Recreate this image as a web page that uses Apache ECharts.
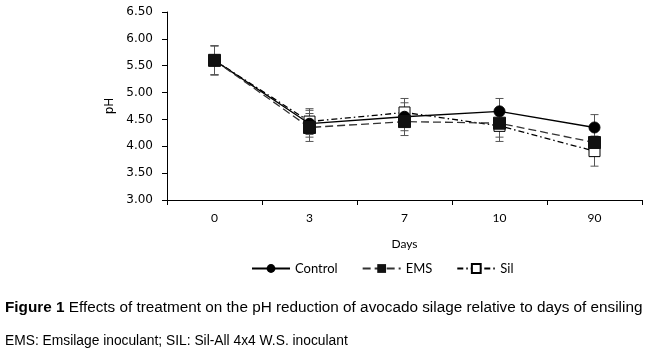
<!DOCTYPE html>
<html>
<head>
<meta charset="utf-8">
<script src="https://cdn.jsdelivr.net/npm/echarts@6/dist/echarts.min.js"></script>
<style>
  html, body { margin: 0; padding: 0; background: #fff; }
  #main { width: 647px; height: 349px; }
</style>
</head>
<body>
<div id="main"></div>
<script>
  // 数据
  var days = ['0', '3', '7', '10', '90'];
  var controlData = [5.60, 4.42, 4.55, 4.65, 4.35];
  var emsData = [5.60, 4.35, 4.46, 4.43, 4.07];
  var silData = [5.60, 4.46, 4.63, 4.38, 3.91];
  var controlErr = [0.27, 0.25, 0.26, 0.24, 0.24];
  var emsErr = [0.27, 0.26, 0.26, 0.26, 0.25];
  var silErr = [0.27, 0.24, 0.26, 0.29, 0.28];

  var myChart = echarts.init(document.getElementById('main'));

  // 误差线
  function errorSeries(name, data, err) {
    return {
      name: name + ' err',
      type: 'custom',
      silent: true,
      z: 1,
      data: data.map(function (v, i) { return [i, v - err[i], v + err[i]]; }),
      renderItem: function (params, api) {
        var lo = api.coord([api.value(0), api.value(1)]);
        var hi = api.coord([api.value(0), api.value(2)]);
        var w = 4;
        var st = { stroke: '#555', lineWidth: 1 };
        return {
          type: 'group',
          children: [
            { type: 'line', shape: { x1: hi[0], y1: hi[1], x2: lo[0], y2: lo[1] }, style: st },
            { type: 'line', shape: { x1: hi[0] - w, y1: hi[1], x2: hi[0] + w, y2: hi[1] }, style: st },
            { type: 'line', shape: { x1: lo[0] - w, y1: lo[1], x2: lo[0] + w, y2: lo[1] }, style: st }
          ]
        };
      }
    };
  }

  myChart.setOption({
    animation: false,
    grid: { left: 167, right: 5, top: 12, bottom: 149 },
    title: [{
      left: 0, top: 295,
      text: '{b|Figure 1} Effects of treatment on the pH reduction of avocado silage relative to days of ensiling',
      textStyle: {
        fontFamily: 'Liberation Sans', fontSize: 15.3, fontWeight: 'normal', color: '#000',
        rich: { b: { fontFamily: 'Liberation Sans', fontSize: 15.3, fontWeight: 'bold', color: '#000' } }
      }
    }, {
      left: 0, top: 329,
      text: 'EMS: Emsilage inoculant; SIL: Sil-All 4x4 W.S. inoculant',
      textStyle: { fontFamily: 'Liberation Sans', fontSize: 13.8, fontWeight: 'normal', color: '#000' }
    }],
    legend: {
      top: 262, left: 251,
      padding: 0,
      itemGap: 24,
      itemWidth: 38, itemHeight: 11,
      data: ['Control', 'EMS', 'Sil'],
      textStyle: { fontFamily: 'Lato', fontSize: 13, color: '#000' }
    },
    xAxis: {
      type: 'category',
      data: days,
      name: 'Days',
      nameLocation: 'middle',
      nameGap: 38,
      nameTextStyle: { fontFamily: 'Lato', fontSize: 12, color: '#000' },
      axisLine: { lineStyle: { color: '#000', width: 1 } },
      axisTick: { show: true, length: 5, lineStyle: { color: '#000' } },
      axisLabel: { fontFamily: 'Lato', fontSize: 12, color: '#000', margin: 12 }
    },
    yAxis: {
      type: 'value',
      min: 3, max: 6.5, interval: 0.5,
      name: 'pH',
      nameLocation: 'middle',
      nameGap: 50,
      nameTextStyle: { fontFamily: 'DejaVu Sans', fontSize: 12, color: '#000' },
      splitLine: { show: false },
      axisLine: { show: true, lineStyle: { color: '#000', width: 1 } },
      axisTick: { show: true, length: 5, lineStyle: { color: '#000' } },
      axisLabel: {
        fontFamily: 'DejaVu Sans', fontSize: 12, color: '#000', margin: 14,
        formatter: function (v) { return v.toFixed(2); }
      }
    },
    series: [
      {
        name: 'Control', type: 'line', data: controlData, z: 3,
        symbol: 'circle', symbolSize: 11,
        itemStyle: { color: '#000', borderColor: '#000' },
        lineStyle: { color: '#000', width: 1.3, type: 'solid' }
      },
      {
        name: 'EMS', type: 'line', data: emsData, z: 4,
        symbol: 'rect', symbolSize: 12,
        itemStyle: { color: '#111', borderColor: '#111' },
        lineStyle: { color: '#333', width: 1.3, type: [8, 4] }
      },
      {
        name: 'Sil', type: 'line', data: silData, z: 2,
        symbol: 'rect', symbolSize: 11,
        itemStyle: { color: '#fff', borderColor: '#000', borderWidth: 1 },
        lineStyle: { color: '#000', width: 1.3, type: [6, 3, 1.5, 3] }
      },
      errorSeries('Control', controlData, controlErr),
      errorSeries('EMS', emsData, emsErr),
      errorSeries('Sil', silData, silErr)
    ]
  });
</script>
</body>
</html>
